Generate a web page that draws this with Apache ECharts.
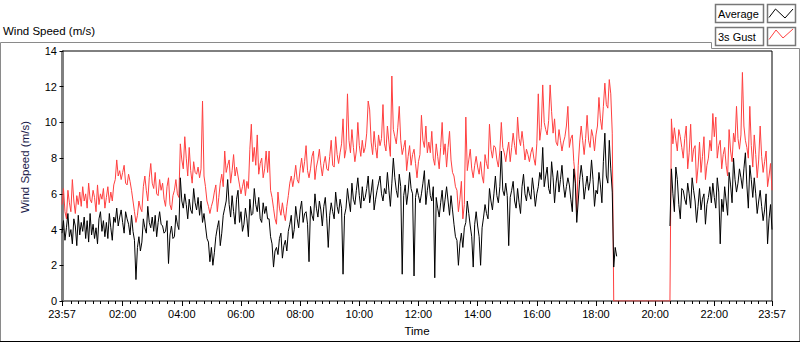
<!DOCTYPE html>
<html>
<head>
<meta charset="utf-8">
<title>Wind Speed (m/s)</title>
<script src="https://cdn.jsdelivr.net/npm/echarts@6/dist/echarts.min.js"></script>
<style>
  html, body { margin: 0; padding: 0; background: #fff; }
  #chart { width: 800px; height: 342px; }
</style>
</head>
<body>
<div id="chart"></div>
<script>
// time base: first sample at 23:57 (previous day), one sample every 3 minutes
const START_MIN = -3;
const STEP_MIN = 3;

// Average wind speed (m/s), one row per hour starting at 23:57, null = no data
const avgSpeed = [
  3.8,4.5,3.4,4.1,4.9,3.6,4.0,3.2,4.6,4.2,3.1,4.8,3.7,4.4,3.9,4.7,3.5,4.5,3.3,4.9,
  3.7,4.3,3.5,4.1,3.2,4.6,5.0,3.9,4.5,3.6,4.4,3.5,4.9,4.1,3.4,4.7,4.4,5.2,4.2,4.7,
  5.1,4.4,3.8,5.0,4.6,4.3,3.7,4.8,3.9,3.4,1.2,3.0,3.6,2.8,3.3,4.6,4.1,3.8,5.3,4.4,
  4.1,4.7,3.9,4.8,3.6,4.4,5.0,4.3,4.2,3.8,3.9,4.5,2.1,3.7,4.2,3.5,3.6,4.8,4.3,4.0,
  6.9,5.6,5.2,6.0,5.4,4.6,5.7,5.1,4.9,6.3,5.5,5.1,5.8,4.8,5.6,4.4,4.9,4.2,3.5,3.3,
  2.2,3.0,2.0,2.7,3.6,4.1,4.5,3.1,3.8,4.8,5.2,5.6,6.8,5.4,4.7,5.9,5.0,4.3,5.7,6.2,
  4.4,5.0,3.9,4.3,5.2,4.6,3.6,5.7,4.8,4.9,6.3,5.4,5.0,5.8,4.6,4.4,5.5,4.9,5.3,4.6,
  4.6,3.6,3.2,1.9,2.8,3.0,2.6,3.5,3.8,2.4,3.1,3.4,2.8,3.9,4.3,4.8,3.5,4.0,5.3,4.6,
  4.1,5.1,5.6,4.4,4.9,5.0,4.3,2.2,5.3,4.8,4.5,6.0,5.2,4.7,5.6,5.1,4.2,5.3,5.8,4.6,
  3.0,4.8,5.5,5.0,4.6,6.1,5.3,4.9,5.7,5.2,1.5,4.8,5.2,6.3,5.6,5.0,6.6,5.7,5.4,6.2,
  6.9,5.9,5.2,6.4,5.6,5.8,6.3,7.0,5.5,6.1,6.8,5.1,5.7,6.2,6.6,7.0,6.0,5.6,6.3,6.0,
  7.2,6.2,5.3,6.6,8.0,6.9,6.2,5.8,7.1,6.4,1.5,5.9,6.5,5.4,6.1,7.2,6.3,6.0,1.4,5.8,
  6.3,5.9,5.5,6.0,6.6,7.3,5.4,6.2,6.8,5.9,5.6,6.4,1.3,5.8,5.2,4.7,5.5,6.2,5.0,5.7,
  6.4,5.6,4.8,5.9,5.1,4.3,3.6,3.4,2.0,3.2,3.8,3.0,4.1,4.4,5.6,4.9,4.2,3.6,1.9,4.3,
  5.0,4.2,3.6,2.0,4.1,4.7,5.4,4.9,4.6,6.3,5.6,5.1,6.0,7.0,5.9,5.5,6.4,8.4,6.2,5.9,
  6.6,5.9,3.1,5.8,6.2,6.7,5.6,5.2,6.3,5.5,4.9,6.4,7.1,6.0,5.6,6.4,6.0,5.7,6.9,6.2,
  5.3,6.0,6.4,7.2,6.8,8.6,6.4,7.0,7.5,6.3,6.0,7.8,6.9,5.5,6.6,7.3,6.1,6.8,7.6,6.5,
  5.8,6.4,6.9,6.5,5.7,5.0,7.4,6.6,4.4,5.6,6.8,7.6,6.9,5.7,6.4,7.0,6.2,6.7,7.9,6.8,
  5.3,6.2,6.0,7.2,6.5,5.5,7.8,9.4,7.0,6.6,9.0,7.4,6.1,1.9,3.0,2.5,null,null,null,null,
  null,null,null,null,null,null,null,null,null,null,null,null,null,null,null,null,null,null,null,null,
  null,null,null,null,null,null,null,null,null,null,null,4.2,7.4,6.0,5.0,7.5,6.8,5.4,4.6,6.3,
  6.2,5.7,5.4,6.6,6.0,5.2,6.9,6.2,5.6,4.4,5.3,6.3,5.1,5.7,6.0,4.3,5.4,5.8,6.4,5.5,
  6.6,5.8,5.2,6.9,6.1,3.2,5.7,5.0,6.4,5.6,4.8,7.2,6.5,5.5,8.0,6.8,6.1,6.6,7.4,6.9,
  6.3,7.4,8.3,6.5,5.2,7.6,6.8,5.8,6.9,6.0,4.9,5.6,6.2,5.3,4.5,5.1,6.0,3.2,4.6,5.4,
  4.0
];

// 3 second gust (m/s), same time base; logged as 0 while the station was down
const gustSpeed = [
  5.4,6.3,5.0,4.6,6.2,5.5,5.0,6.8,5.6,4.9,5.9,5.4,6.1,5.3,6.4,5.6,6.0,5.2,6.6,5.7,
  5.5,6.2,5.8,5.0,6.5,5.4,6.0,5.7,6.3,5.2,5.8,6.4,5.5,6.1,5.6,6.5,6.8,7.9,7.0,7.3,
  6.8,7.2,7.6,6.6,6.5,7.1,6.7,6.2,5.6,5.0,4.4,4.8,5.6,5.2,5.0,6.4,7.0,6.2,5.6,6.9,
  7.7,6.6,6.3,7.2,6.0,5.9,6.8,6.2,6.6,5.7,5.3,6.4,6.9,5.4,5.1,5.9,6.2,6.8,6.0,5.8,
  8.8,7.9,7.4,9.2,8.0,7.0,8.6,7.3,6.6,7.8,7.2,7.1,7.5,6.9,7.4,11.2,7.0,6.4,5.6,5.3,
  4.9,5.3,5.6,6.1,6.5,5.0,5.8,6.6,7.1,6.4,8.4,7.2,7.6,7.9,6.6,7.3,8.2,7.0,7.5,7.0,
  6.5,6.0,6.4,6.8,5.9,6.7,6.3,8.5,9.9,7.8,8.6,7.6,9.3,7.1,7.7,8.0,6.9,7.4,8.4,7.2,
  8.4,6.2,5.8,5.2,4.6,4.3,6.1,5.2,4.8,5.5,4.9,4.5,5.3,5.9,6.6,7.0,6.4,6.9,7.6,6.8,
  6.6,7.4,8.0,7.2,7.8,8.7,7.3,6.9,7.4,8.1,8.4,6.8,7.5,7.9,8.5,7.6,7.0,7.7,8.1,7.4,
  7.3,8.1,9.0,7.6,7.5,9.2,8.2,7.7,8.3,8.8,10.2,8.0,8.5,11.6,9.0,8.3,9.6,8.6,7.8,8.4,
  10.0,8.7,8.1,9.0,8.3,8.6,9.4,11.2,10.7,8.9,8.2,9.5,8.6,8.0,9.3,8.7,9.1,11.0,8.8,8.4,
  9.8,8.9,8.1,12.6,9.6,9.2,8.8,9.7,10.9,9.0,8.2,8.6,9.0,7.3,8.1,8.7,7.6,8.2,8.5,7.7,
  6.9,7.8,8.2,10.4,9.0,8.6,9.8,8.3,8.9,8.3,9.5,8.0,7.6,8.8,8.1,7.4,8.6,10.0,8.2,8.8,
  7.5,8.6,9.5,7.9,7.2,7.0,6.4,6.2,5.0,5.7,6.7,4.6,5.4,10.3,7.3,7.9,8.5,7.4,6.9,7.6,
  8.1,7.5,7.1,7.8,7.0,6.6,8.2,7.7,7.4,9.9,8.5,8.0,8.7,8.6,7.9,7.5,8.4,10.0,8.6,8.3,
  7.8,8.4,8.9,7.8,8.6,9.4,8.7,8.2,10.3,9.1,8.7,9.5,8.8,7.9,8.5,8.2,7.8,8.3,8.6,8.0,
  7.6,8.8,11.6,9.0,9.7,12.1,10.0,9.6,9.3,10.1,12.1,10.6,9.4,10.2,8.9,8.7,9.6,9.0,8.4,8.9,
  9.2,9.8,10.9,8.6,9.1,9.3,7.8,7.0,5.0,7.6,8.9,9.8,9.0,8.2,9.1,10.4,9.0,8.6,9.6,9.2,
  8.4,9.3,9.8,11.4,10.2,9.6,10.9,12.2,11.0,10.8,12.4,11.6,9.4,0,0,0,0,0,0,0,
  0,0,0,0,0,0,0,0,0,0,0,0,0,0,0,0,0,0,0,0,
  0,0,0,0,0,0,0,0,0,0,0,0,10.2,8.8,9.7,9.0,8.4,9.6,9.2,8.6,
  8.0,9.1,9.8,7.4,8.3,9.9,7.8,8.5,8.7,6.6,7.5,8.9,7.2,8.1,9.2,6.8,7.6,8.0,9.0,8.4,
  10.5,9.2,10.3,8.0,8.7,9.0,7.4,8.2,8.6,7.6,7.0,9.6,8.4,7.8,9.4,8.9,10.9,9.1,8.5,9.3,
  12.8,9.8,9.0,8.6,8.0,10.9,8.7,7.5,9.3,8.2,6.9,7.9,9.8,8.1,7.2,7.8,8.4,6.4,7.0,7.7,
  6.2
];

// x axis labels (minutes from midnight) and their text
const tickMinutes = [-3, 120, 240, 360, 480, 600, 720, 840, 960, 1080, 1200, 1320, 1437];
const tickLabels = ['23:57', '02:00', '04:00', '06:00', '08:00', '10:00', '12:00',
                    '14:00', '16:00', '18:00', '20:00', '22:00', '23:57'];

const FONT = '"Liberation Sans", Arial, sans-serif';

// minor ticks every 15 min, skipping the labelled ones
const minorTicks = [];
for (let m = 0; m < 1440; m += 15) {
  if (m % 120 !== 0) minorTicks.push(m);
}

const toPairs = arr => arr.map((v, i) => [START_MIN + i * STEP_MIN, v]);

const chart = echarts.init(document.getElementById('chart'), null, { renderer: 'svg' });

const option = {
  animation: false,
  backgroundColor: '#fff',
  title: {
    text: 'Wind Speed (m/s)',
    left: 3,
    top: 25,
    padding: 0,
    textStyle: { fontFamily: FONT, fontSize: 11.5, fontWeight: 'normal', color: '#000' }
  },
  grid: {
    left: 62, right: 28, top: 51, bottom: 40,
    show: true, borderColor: '#000', borderWidth: 1, backgroundColor: '#fff'
  },
  xAxis: [
    {
      type: 'value',
      position: 'bottom',
      min: -3,
      max: 1437,
      name: 'Time',
      nameLocation: 'middle',
      nameGap: 24,
      nameTextStyle: { fontFamily: FONT, fontSize: 11.5, color: '#000' },
      axisLine: { lineStyle: { color: '#808080', width: 1 } },
      axisTick: { customValues: tickMinutes, length: 5, lineStyle: { color: '#000' } },
      axisLabel: {
        customValues: tickMinutes,
        fontFamily: FONT, fontSize: 11, color: '#000', margin: 7,
        formatter: v => tickLabels[tickMinutes.indexOf(v)] || ''
      },
      splitLine: { show: false }
    },
    {
      type: 'value',
      position: 'bottom',
      min: -3,
      max: 1437,
      axisLine: { show: false },
      axisTick: { customValues: minorTicks, length: 3, lineStyle: { color: '#000' } },
      axisLabel: { show: false },
      splitLine: { show: false }
    }
  ],
  yAxis: [
    {
      type: 'value',
      min: 0,
      max: 14,
      interval: 2,
      name: 'Wind Speed (m/s)',
      nameLocation: 'middle',
      nameGap: 31,
      nameTextStyle: { fontFamily: FONT, fontSize: 11.5, color: '#1a1a48', padding: [0, 0, 0, 18] },
      axisLine: { show: true, lineStyle: { color: '#000' } },
      axisTick: { show: true, length: 4, lineStyle: { color: '#000' } },
      axisLabel: { fontFamily: FONT, fontSize: 11, color: '#000', margin: 5 },
      splitLine: { show: false }
    },
    {
      type: 'value',
      position: 'right',
      min: 0,
      max: 14,
      axisLine: { show: true, lineStyle: { color: '#808080' } },
      axisTick: { show: false },
      axisLabel: { show: false },
      splitLine: { show: false }
    }
  ],
  series: [
    {
      name: '3s Gust',
      type: 'line',
      data: toPairs(gustSpeed),
      showSymbol: false,
      lineStyle: { color: '#ff4040', width: 1 },
      itemStyle: { color: '#ff4040' },
      silent: true,
      z: 2
    },
    {
      name: 'Average',
      type: 'line',
      data: toPairs(avgSpeed),
      showSymbol: false,
      connectNulls: false,
      lineStyle: { color: '#000', width: 1 },
      itemStyle: { color: '#000' },
      silent: true,
      z: 3
    }
  ],
  // outer panel frame and the plot legend boxes
  graphic: [
    {
      type: 'polyline',
      shape: { points: [[0.5, 341], [0.5, 42.5], [711.5, 42.5], [711.5, 48.5], [799.5, 48.5], [799.5, 341]] },
      style: { stroke: '#8a8a8a', fill: 'none', lineWidth: 1 }
    },
    { type: 'line', shape: { x1: 0, y1: 341.5, x2: 800, y2: 341.5 }, style: { stroke: '#000', lineWidth: 1 } },

    { type: 'rect', shape: { x: 715.5, y: 4.5, width: 48, height: 18 }, style: { fill: '#fff', stroke: '#777', lineWidth: 1.5 } },
    { type: 'text', style: { text: 'Average', x: 718, y: 14, verticalAlign: 'middle', font: '11px ' + FONT, fill: '#000' } },
    { type: 'rect', shape: { x: 767.5, y: 4.5, width: 28, height: 18 }, style: { fill: '#fff', stroke: '#777', lineWidth: 1.5 } },
    { type: 'polyline', shape: { points: [[769, 17.5], [775.5, 9], [785, 18], [793, 9]] }, style: { stroke: '#000', fill: 'none', lineWidth: 1 } },

    { type: 'rect', shape: { x: 715.5, y: 27.5, width: 48, height: 18 }, style: { fill: '#fff', stroke: '#777', lineWidth: 1.5 } },
    { type: 'text', style: { text: '3s Gust', x: 718, y: 37, verticalAlign: 'middle', font: '11px ' + FONT, fill: '#000' } },
    { type: 'rect', shape: { x: 767.5, y: 27.5, width: 28, height: 18 }, style: { fill: '#fff', stroke: '#777', lineWidth: 1.5 } },
    { type: 'polyline', shape: { points: [[769, 39.5], [776, 30], [783, 38], [793, 29]] }, style: { stroke: '#ff4040', fill: 'none', lineWidth: 1 } }
  ]
};

chart.setOption(option);
</script>
</body>
</html>
